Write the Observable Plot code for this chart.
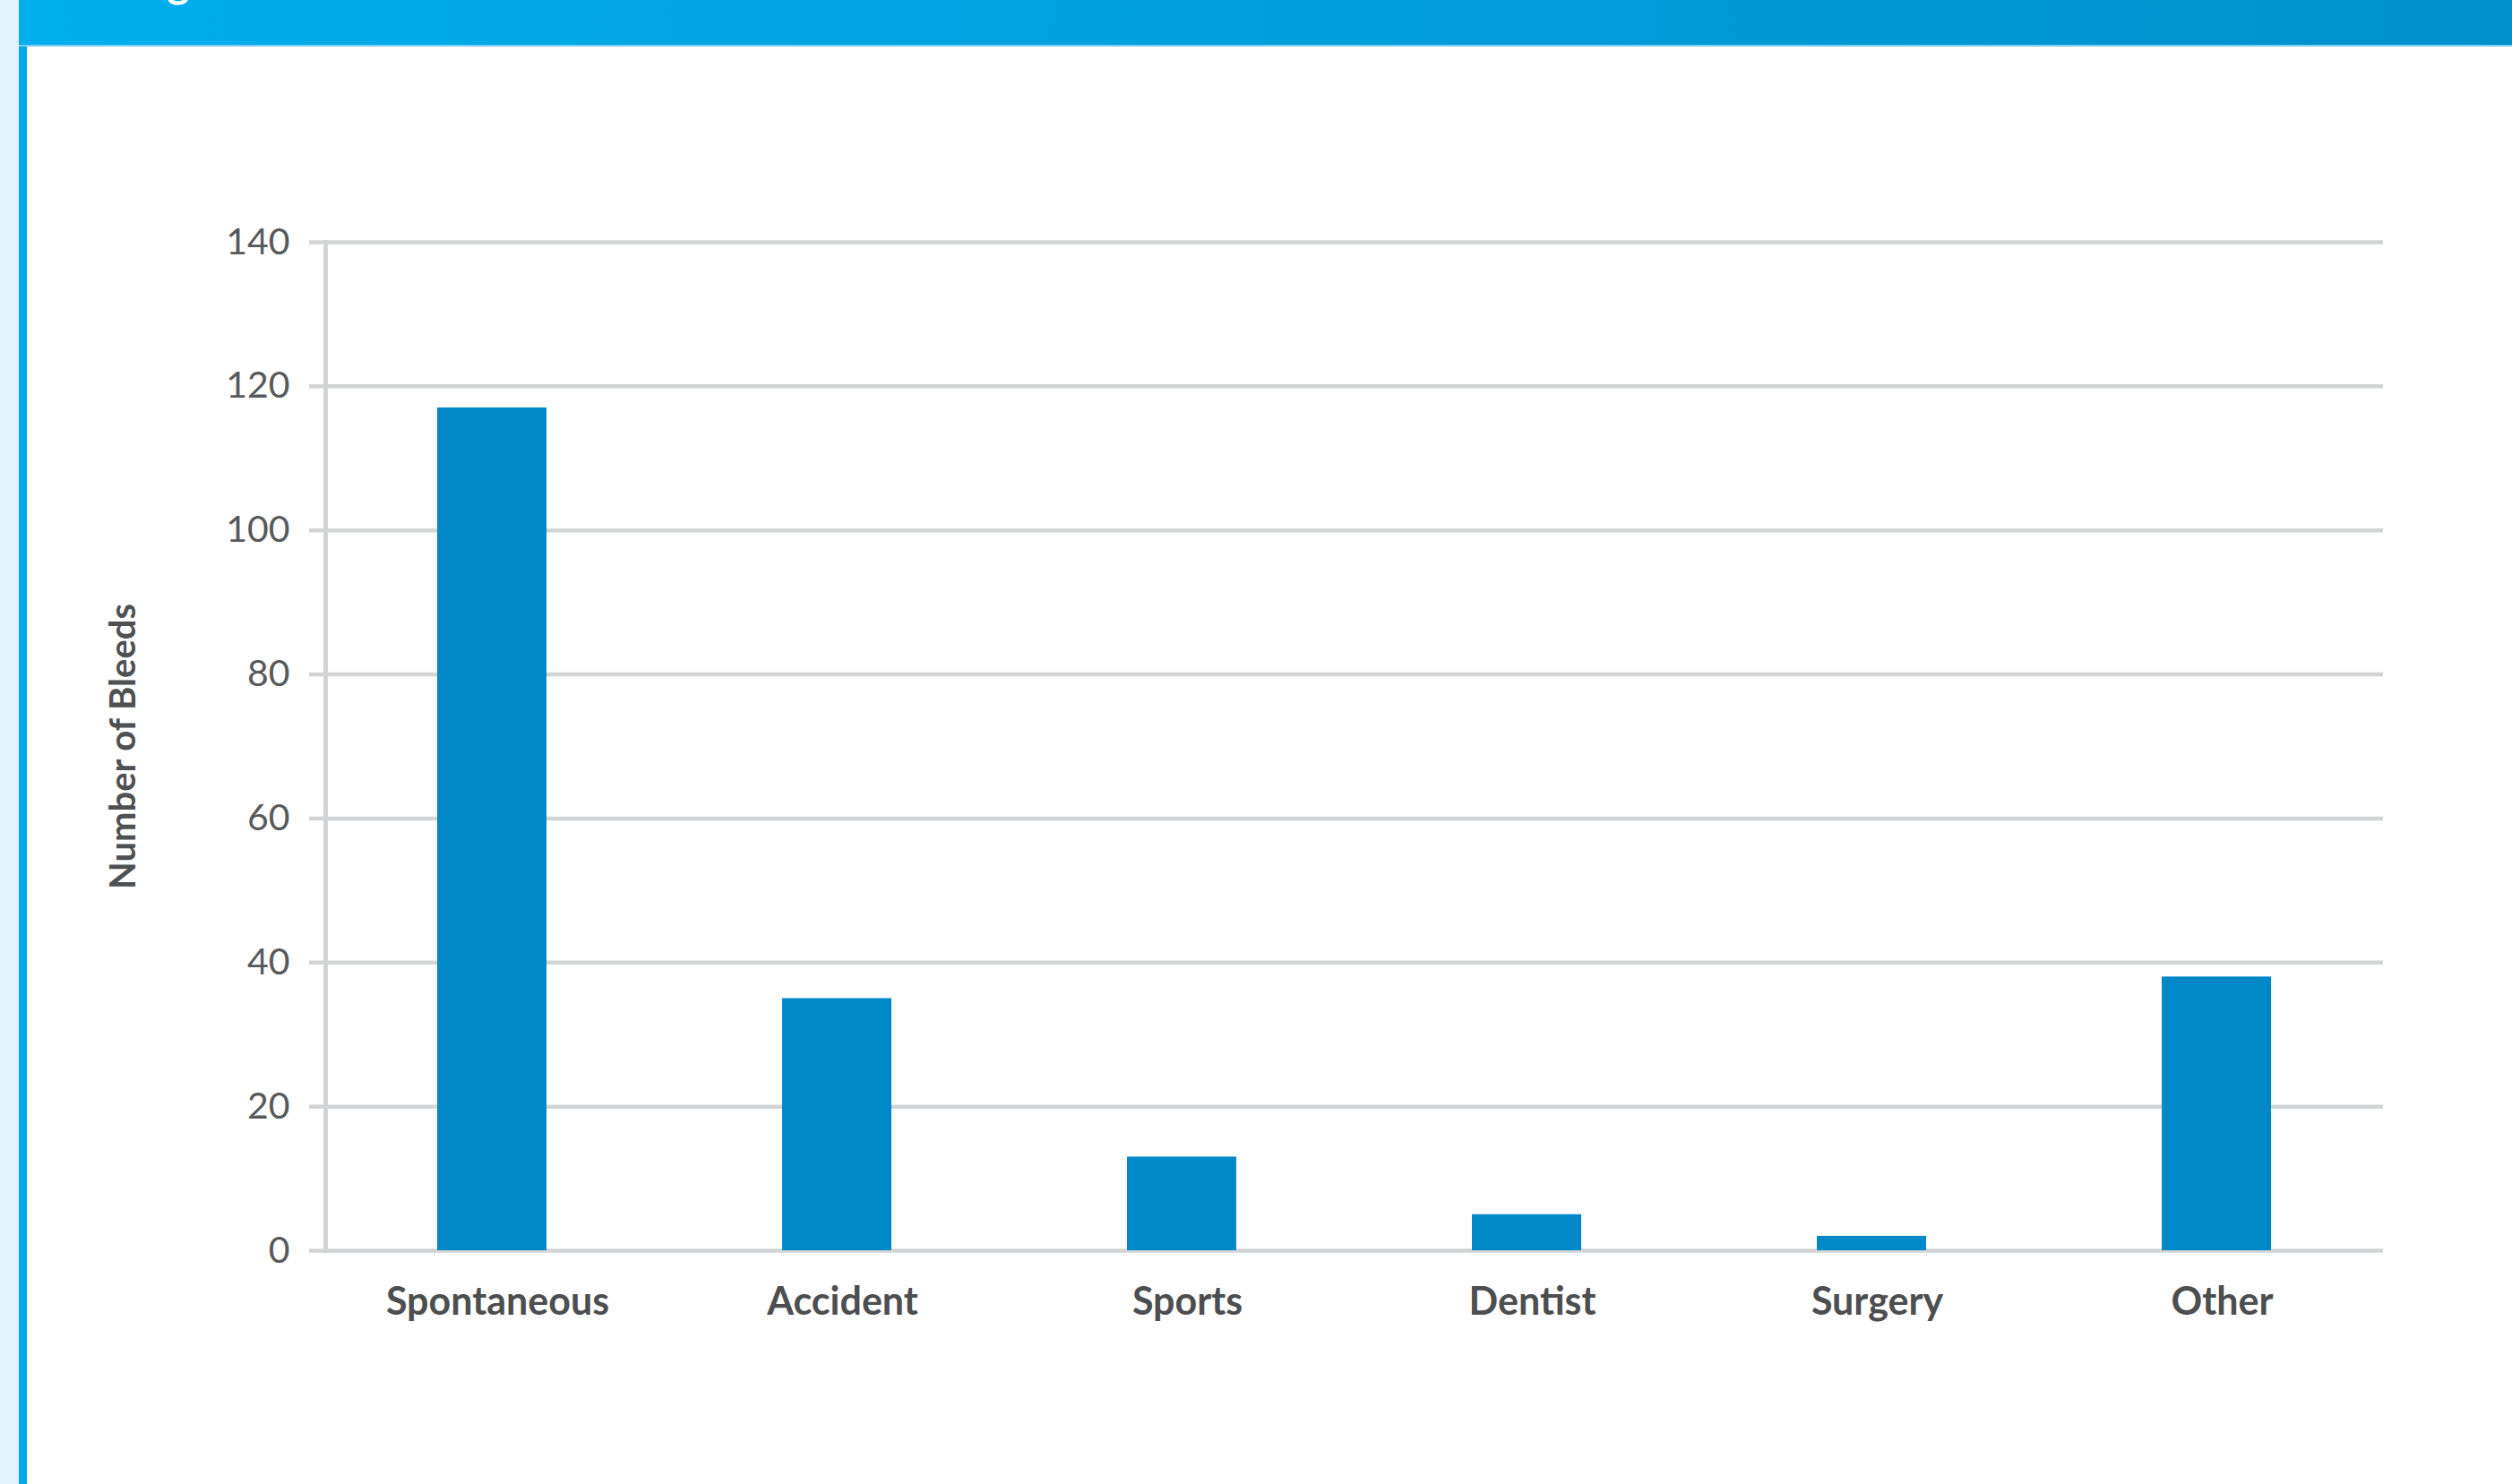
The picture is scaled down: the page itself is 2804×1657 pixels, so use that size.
<!DOCTYPE html>
<html>
<head>
<meta charset="utf-8">
<script src="https://cdn.jsdelivr.net/npm/d3@7"></script>
<script src="https://cdn.jsdelivr.net/npm/@observablehq/plot@0.6"></script>
<style>
  html, body { margin: 0; padding: 0; width: 2804px; height: 1657px; overflow: hidden; background: #ffffff; font-family: Lato, sans-serif; }
  #strip { position: absolute; left: 0; top: 0; width: 21px; height: 1657px; background: #e2f3fc; }
  #edge { position: absolute; left: 21px; top: 0; width: 9px; height: 1657px; background: #00a9e8; }
  #header { position: absolute; left: 21px; top: 0; width: 2783px; height: 50px; background: linear-gradient(90deg, #00aeec 0%, #0090cd 100%); border-bottom: 2px solid #7ccdf0; overflow: hidden; }
  #title { position: absolute; left: 126px; top: -45px; font: bold 48px/48px Lato, sans-serif; color: #ffffff; white-space: nowrap; }
  #chart { position: absolute; left: 30px; top: 54px; }
</style>
</head>
<body>
<div id="strip"></div>
<div id="edge"></div>
<div id="header"><div id="title">Figure</div></div>
<div id="chart"></div>
<script>
const categories = ["Spontaneous", "Accident", "Sports", "Dentist", "Surgery", "Other"];
const bleeds = [117, 35, 13, 5, 2, 38];
const yTicks = [0, 20, 40, 60, 80, 100, 120, 140];
const yLabel = "Number of Bleeds";

const data = categories.map((c, i) => ({cause: c, n: bleeds[i]}));
const gridColor = "#d3d4d6";

const chart = Plot.plot({
  width: 2774,
  height: 1603,
  marginLeft: 333,
  marginRight: 144,
  marginTop: 216,
  marginBottom: 261,
  style: {fontFamily: "Lato, sans-serif", background: "transparent", overflow: "visible"},
  x: {domain: categories, paddingInner: 0.683, paddingOuter: 0.323, label: null},
  y: {domain: [0, 140], label: null},
  marks: [
    Plot.gridY(yTicks, {stroke: gridColor, strokeOpacity: 1, strokeWidth: 4.5}),
    Plot.axisY(yTicks, {tickSize: 18, tickPadding: 22, stroke: gridColor, strokeOpacity: 1, strokeWidth: 4.5, fill: "#58595b", fontSize: 41, label: null}),
    Plot.axisY([], {label: yLabel, labelAnchor: "center", labelArrow: false, labelOffset: 241, fontSize: 40, fontWeight: "bold", fill: "#4f5052", tickSize: 0}),
    Plot.frame({anchor: "left", stroke: gridColor, strokeWidth: 5}),
    Plot.barY(data, {x: "cause", y: "n", fill: "#0088c8"}),
    Plot.axisX({tickSize: 0, tickPadding: 41, fontSize: 43, fontWeight: "bold", fill: "#4d4e50", label: null, dx: 6})
  ]
});
document.getElementById("chart").appendChild(chart);
</script>
</body>
</html>
